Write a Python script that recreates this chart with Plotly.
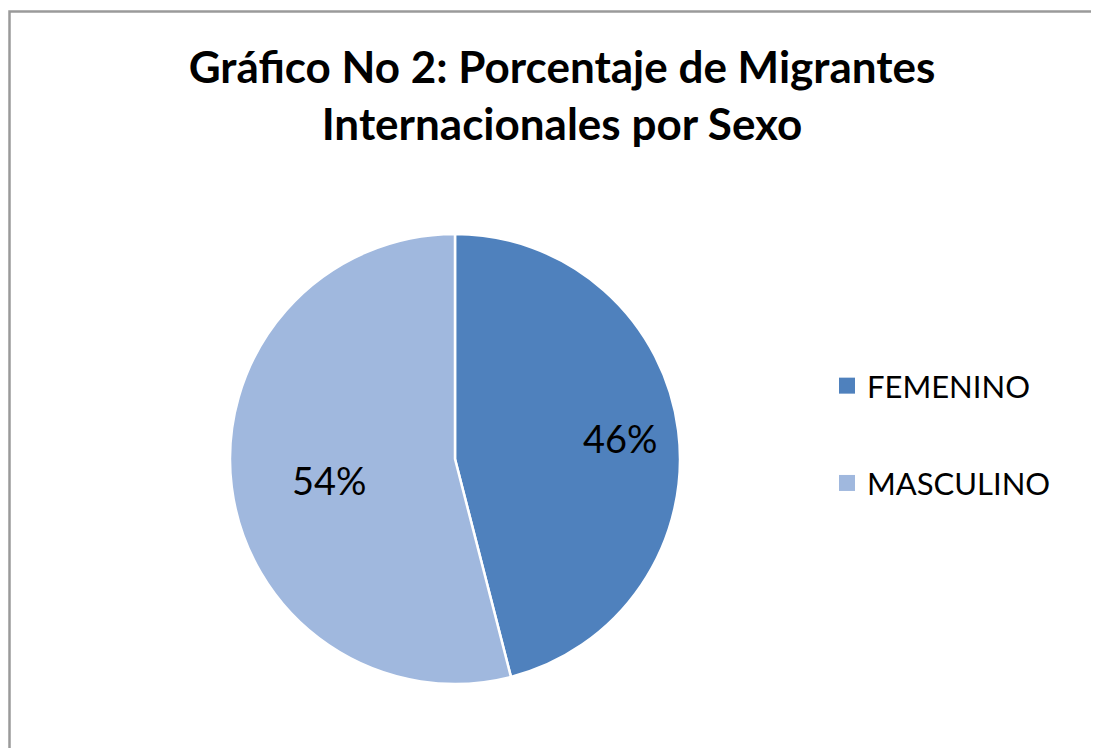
import math
import plotly.graph_objects as go

FONT = "Lato, Noto Sans, sans-serif"

categories = ["FEMENINO", "MASCULINO"]
percentages = [46, 54]
colors = ["#4F81BD", "#A0B8DE"]

W, H = 1099, 748
# pie geometry in pixels (figure coords)
CX, CY, R = 447, 451, 225
LABEL_R = 0.74

fig = go.Figure()
fig.add_trace(go.Pie(
    labels=categories, values=percentages, sort=False, direction="clockwise",
    rotation=0, marker=dict(colors=colors, line=dict(color="white", width=2.5)),
    textinfo="none",
    domain=dict(x=[(CX - R) / W, (CX + R) / W], y=[1 - (CY + R) / H, 1 - (CY - R) / H]),
    showlegend=False,
))

# percentage labels placed along each slice's mid angle, like the original
total = sum(percentages)
start = 0.0
for val in percentages:
    mid = (start + val / 2) / total * 2 * math.pi
    start += val
    px = CX + LABEL_R * R * math.sin(mid)
    py = CY - LABEL_R * R * math.cos(mid)
    fig.add_annotation(text=f"{round(val / total * 100)}%", x=px / W, y=1 - py / H,
        xref="paper", yref="paper", showarrow=False,
        font=dict(size=38, color="black", family=FONT))

# legend entries as dummy traces so the spacing can follow the original
for cat, col in zip(categories, colors):
    fig.add_trace(go.Scatter(x=[None], y=[None], mode="markers", name=cat,
        legendgroup=cat, marker=dict(symbol="square", size=16, color=col)))

fig.update_layout(
    width=W, height=H, margin=dict(l=0, r=0, t=0, b=0),
    paper_bgcolor="white", plot_bgcolor="white",
    font=dict(family=FONT, color="black"),
    title=dict(text="<b>Gráfico No 2: Porcentaje de Migrantes<br>Internacionales por Sexo</b>",
        x=554 / W, xanchor="center", y=1 - 75 / H, yanchor="middle",
        font=dict(size=44, family=FONT, color="black")),
    xaxis=dict(visible=False), yaxis=dict(visible=False),
    legend=dict(x=819 / W, xanchor="left", y=1 - 351 / H, yanchor="top",
        font=dict(size=31, family=FONT, color="black"), tracegroupgap=54,
        itemclick=False),
    shapes=[dict(type="rect", xref="paper", yref="paper",
        x0=1.5 / W, x1=1.02, y0=-0.02, y1=1 - 3.5 / H,
        line=dict(color="#9A9A9A", width=2.5))],
)
fig.write_html("out.html")
